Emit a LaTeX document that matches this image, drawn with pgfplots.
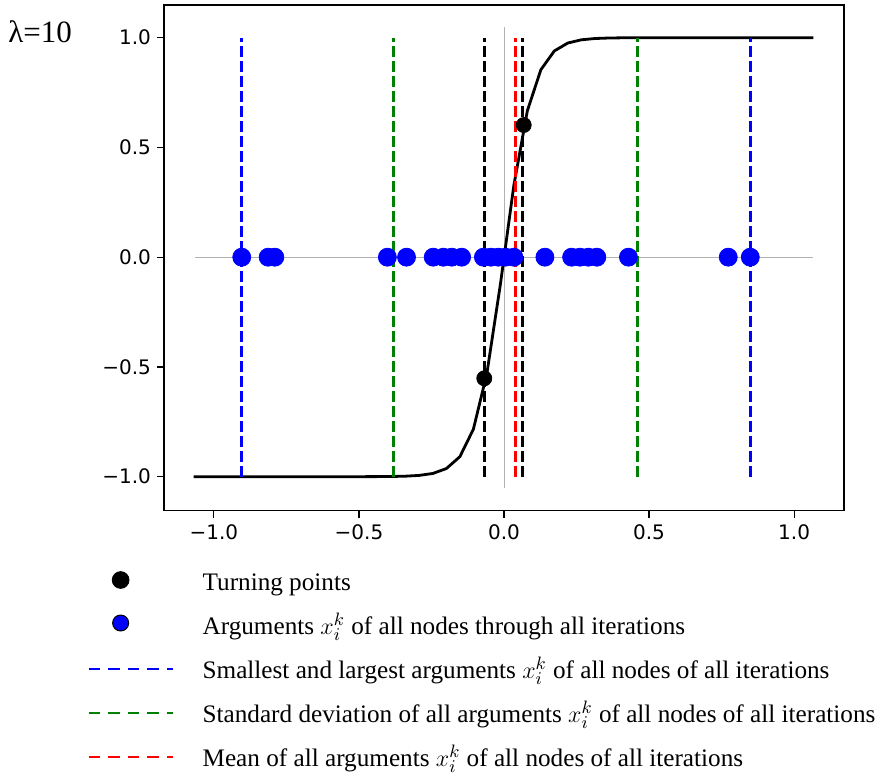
\documentclass[border=0pt]{standalone}
\usepackage{fontspec}
\setmainfont{Liberation Serif}
\newfontfamily\dejavu{DejaVu Sans}
\usepackage{pgfplots}
\pgfplotsset{compat=1.18}
\begin{document}
\begin{tikzpicture}
\useasboundingbox (0,0) rectangle (445.5pt,387.5pt);
\begin{axis}[
  at={(82pt,132.15pt)}, anchor=south west,
  scale only axis, width=340pt, height=252.85pt,
  xmin=-1.172, xmax=1.172, ymin=-1.155, ymax=1.149,
  clip=false,
  axis line style={line width=0.6pt},
  tick align=outside, major tick length=3.5pt,
  tick style={black, line width=0.6pt},
  xtick pos=bottom, ytick pos=left,
  xtick={-1,-0.5,0,0.5,1},
  xticklabels={−1.0,−0.5,0.0,0.5,1.0},
  ytick={-1,-0.5,0,0.5,1},
  yticklabels={−1.0,−0.5,0.0,0.5,1.0},
  ticklabel style={font=\dejavu\fontsize{10}{12}\selectfont},
  yticklabel style={xshift=0.5pt},
  xticklabel style={yshift=0pt},
  legend cell align=left,
  legend style={at={(axis description cs:-0.1128,-0.1173)}, anchor=north west,
    draw=none, fill=none, inner sep=0pt, outer sep=0pt,
    row sep=8pt, column sep=0pt,
    cells={anchor=base west},
    nodes={inner sep=0pt, outer sep=0pt, text height=10pt, text depth=4pt,
      font=\fontsize{12.6}{15}\selectfont}},
]
\addlegendimage{legend image code/.code={\path[draw=none] (0,0) -- (57pt,0); \fill[black] (16pt,5pt) circle (4.2pt);}}
\addlegendentry{Turning points}
\addlegendimage{legend image code/.code={\path[draw=none] (0,0) -- (57pt,0); \draw[fill=blue, draw=black, line width=0.5pt] (16pt,5.5pt) circle (4pt);}}
\addlegendentry{Arguments $x_i^k$ of all nodes through all iterations}
\addlegendimage{legend image code/.code={\path[draw=none] (0,0) -- (57pt,0); \draw[blue, line width=1.35pt, dash pattern=on 5.8pt off 4pt] (0,4.5pt) -- (42.2pt,4.5pt);}}
\addlegendentry{Smallest and largest arguments $x_i^k$ of all nodes of all iterations}
\addlegendimage{legend image code/.code={\path[draw=none] (0,0) -- (57pt,0); \draw[black!50!green, line width=1.35pt, dash pattern=on 5.8pt off 4pt] (0,4.5pt) -- (42.2pt,4.5pt);}}
\addlegendentry{Standard deviation of all arguments $x_i^k$ of all nodes of all iterations}
\addlegendimage{legend image code/.code={\path[draw=none] (0,0) -- (57pt,0); \draw[red, line width=1.35pt, dash pattern=on 5.8pt off 4pt] (0,4.5pt) -- (42.2pt,4.5pt);}}
\addlegendentry{Mean of all arguments $x_i^k$ of all nodes of all iterations}

% gray reference lines
\addplot[forget plot, black!30, line width=0.5pt] coordinates {(-1.066,0) (1.066,0)};
\addplot[forget plot, black!30, line width=0.5pt] coordinates {(0,-1.05) (0,1.05)};

% arguments
\addplot[forget plot, only marks, mark=*, mark size=4.5pt, blue, mark options={draw=blue, fill=blue}] coordinates {
(-0.904,0) (-0.813,0) (-0.790,0) (-0.402,0) (-0.336,0) (-0.244,0) (-0.209,0) (-0.180,0) (-0.146,0)
(-0.071,0) (-0.045,0) (-0.020,0) (0.005,0) (0.034,0) (0.141,0) (0.233,0) (0.262,0) (0.291,0)
(0.320,0) (0.429,0) (0.773,0) (0.849,0)};

% activation curve
\addplot[forget plot, black, line width=1.4pt] coordinates {
(-1.070,-1.0) (-0.4775,-0.99991) (-0.431,-0.99964) (-0.3845,-0.99909) (-0.338,-0.99768)
(-0.2915,-0.99414) (-0.245,-0.98522) (-0.1985,-0.96295) (-0.152,-0.90870) (-0.1055,-0.78374)
(-0.059,-0.52986) (-0.0125,-0.12435) (0.034,0.32748) (0.0805,0.66682) (0.127,0.85380)
(0.1735,0.93965) (0.220,0.97574) (0.2665,0.99036) (0.313,0.99618) (0.3595,0.99849)
(0.406,0.99940) (0.4525,0.99976) (0.499,0.99991) (1.066,1.0)};

% vertical dashed lines
\addplot[forget plot, blue, line width=1.5pt, dash pattern=on 5.3pt off 2.2pt] coordinates {(-0.9045,-1) (-0.9045,1)};
\addplot[forget plot, blue, line width=1.5pt, dash pattern=on 5.3pt off 2.2pt] coordinates {(0.848,-1) (0.848,1)};
\addplot[forget plot, black!50!green, line width=1.5pt, dash pattern=on 5.3pt off 2.2pt] coordinates {(-0.380,-1) (-0.380,1)};
\addplot[forget plot, black!50!green, line width=1.5pt, dash pattern=on 5.3pt off 2.2pt] coordinates {(0.461,-1) (0.461,1)};
\addplot[forget plot, black, line width=1.5pt, dash pattern=on 5.3pt off 2.2pt] coordinates {(-0.068,-1) (-0.068,1)};
\addplot[forget plot, black, line width=1.5pt, dash pattern=on 5.3pt off 2.2pt] coordinates {(0.0644,-1) (0.0644,1)};
\addplot[forget plot, red, line width=1.5pt, dash pattern=on 5.3pt off 2.2pt] coordinates {(0.0403,-1) (0.0403,1)};

% turning points
\addplot[forget plot, only marks, mark=*, mark size=3.75pt, black] coordinates {(-0.068,-0.552) (0.068,0.602)};

\node[anchor=base west, inner sep=0pt, font=\fontsize{15.5}{18}\selectfont] at (axis description cs:-0.2294,0.9249) {λ=10};
\end{axis}
\end{tikzpicture}
\end{document}
